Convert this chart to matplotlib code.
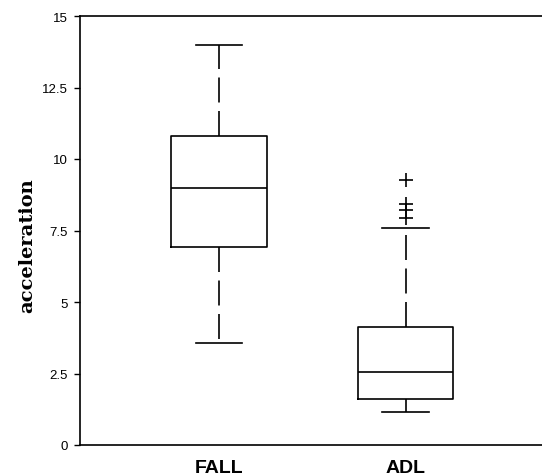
import matplotlib
matplotlib.use("Agg")
import matplotlib.pyplot as plt

groups = ["FALL", "ADL"]
q1 = [6.91, 1.62]
med = [8.97, 2.55]
q3 = [10.82, 4.13]
whislo = [3.58, 1.16]
whishi = [14.0, 7.57]
fliers = [[], [9.27, 8.44, 8.23, 7.95]]
yticks = [0, 2.5, 5, 7.5, 10, 12.5, 15]
ytick_labels = ["0", "2.5", "5", "7.5", "10", "12.5", "15"]

stats = []
for i, g in enumerate(groups):
    stats.append(dict(label=g, q1=q1[i], med=med[i], q3=q3[i],
                      whislo=whislo[i], whishi=whishi[i], fliers=fliers[i]))

fig = plt.figure(figsize=(5.42, 4.77), dpi=100)
ax = fig.add_axes([80/542, 31/477, 1 - 80/542, 429/477])

ax.bxp(stats, positions=[1, 2], widths=0.51, capwidths=0.25,
       boxprops=dict(color="black", linewidth=1.2),
       medianprops=dict(color="black", linewidth=1.2),
       whiskerprops=dict(color="black", linewidth=1.2, linestyle=(0, (15, 5.1))),
       capprops=dict(color="black", linewidth=1.2),
       flierprops=dict(marker="+", markersize=10, markeredgecolor="black",
                       markeredgewidth=1.2))

ax.set_xlim(0.255, 2.73)
ax.set_ylim(0, 15)
ax.set_yticks(yticks)
ax.set_yticklabels(ytick_labels, fontsize=9.5, family="Liberation Sans")
ax.tick_params(axis="y", length=4, width=1, direction="out", pad=5)
ax.tick_params(axis="x", length=0, pad=10)
for lab in ax.get_xticklabels():
    lab.set_fontsize(14)
    lab.set_fontweight("bold")
    lab.set_family("Liberation Sans")
ax.spines["right"].set_visible(False)
for s in ["left", "bottom", "top"]:
    ax.spines[s].set_linewidth(1.2)

ax.set_ylabel("acceleration", fontsize=14, family="DejaVu Serif",
              fontweight="bold", va="center")
ax.yaxis.set_label_coords(-(80 - 27) / 462, 0.466)

fig.savefig("out.png", dpi=100)
